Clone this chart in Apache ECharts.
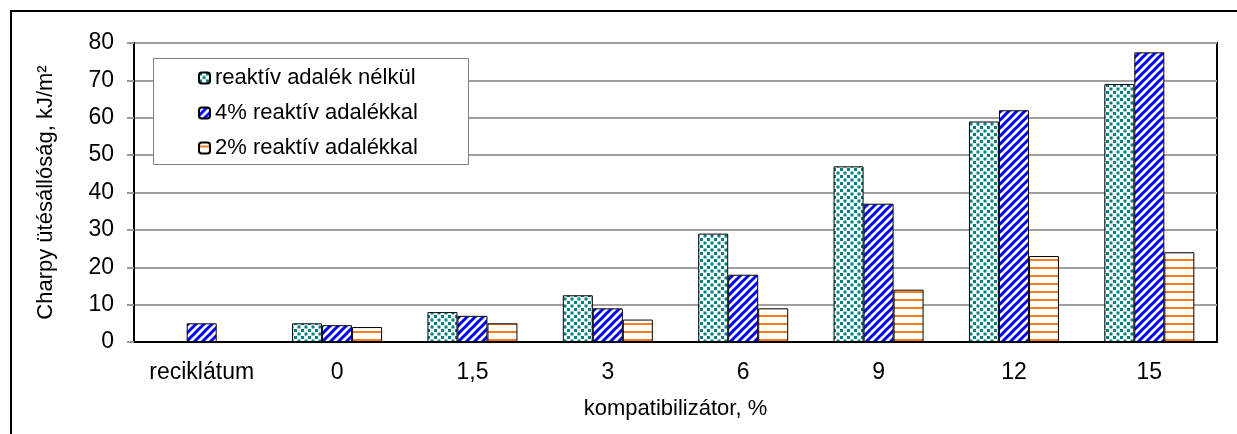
<!DOCTYPE html>
<html>
<head>
<meta charset="utf-8">
<script src="https://cdn.jsdelivr.net/npm/echarts@6/dist/echarts.min.js"></script>
<style>
  html, body { margin: 0; padding: 0; background: #fff; }
  #main { width: 1237px; height: 434px; }
</style>
</head>
<body>
<div id="main"></div>
<script>
// data
const categories = ['reciklátum', '0', '1,5', '3', '6', '9', '12', '15']
const seriesNames = ['reaktív adalék nélkül', '4% reaktív adalékkal', '2% reaktív adalékkal']
const noAdditive = [null, 5, 8, 12.5, 29, 47, 59, 69]
const fourPercent = [5, 4.5, 7, 9, 18, 37, 62, 77.5]
const twoPercent = [null, 4, 5, 6, 9, 14, 23, 24]
const yTicks = [0, 10, 20, 30, 40, 50, 60, 70, 80]

const font = '"Liberation Sans", Arial, sans-serif'

// hatch fills, Excel style
const makeTile = (w, h, draw) => {
  const c = document.createElement('canvas')
  c.width = w
  c.height = h
  const ctx = c.getContext('2d')
  ctx.fillStyle = '#fff'
  ctx.fillRect(0, 0, w, h)
  draw(ctx)
  return { image: c, repeat: 'repeat' }
}

const dots = makeTile(7, 7, ctx => {
  ctx.fillStyle = '#008080'
  ctx.fillRect(0, 0, 3, 3)
  ctx.fillRect(3.5, 3.5, 3, 3)
})

const diagonal = makeTile(8, 8, ctx => {
  ctx.strokeStyle = '#0000ff'
  ctx.lineWidth = 3
  ctx.beginPath()
  ctx.moveTo(-2, 10); ctx.lineTo(10, -2)
  ctx.moveTo(-6, 6); ctx.lineTo(6, -6)
  ctx.moveTo(2, 14); ctx.lineTo(14, 2)
  ctx.stroke()
})

const horizontal = makeTile(8, 8, ctx => {
  ctx.fillStyle = '#ff7a1a'
  ctx.fillRect(0, 3, 8, 2)
})

const barSeries = (name, data, fill) => ({
  name,
  type: 'bar',
  barWidth: 30,
  barGap: '0%',
  data,
  itemStyle: {
    color: fill,
    borderColor: '#000',
    borderWidth: 1
  }
})

const myChart = echarts.init(document.getElementById('main'))

myChart.setOption({
  animation: false,
  textStyle: { fontFamily: font },
  graphic: [
    {
      type: 'rect',
      z: 10,
      silent: true,
      shape: { x: 11, y: 11, width: 1240, height: 440 },
      style: { fill: 'none', stroke: '#000', lineWidth: 2 }
    },
    {
      type: 'rect',
      z: 3,
      silent: true,
      shape: { x: 153.5, y: 58.5, width: 315, height: 106 },
      style: { fill: '#fff', stroke: '#808080', lineWidth: 1 }
    }
  ],
  legend: {
    orient: 'vertical',
    left: 198,
    top: 66,
    padding: 0,
    itemWidth: 11,
    itemHeight: 11,
    itemGap: 11,
    z: 5,
    data: seriesNames,
    textStyle: { fontFamily: font, fontSize: 22, color: '#000', lineHeight: 24 }
  },
  grid: {
    left: 134,
    top: 43,
    right: 20,
    bottom: 92,
    show: true,
    borderColor: '#000',
    borderWidth: 2,
    backgroundColor: 'transparent'
  },
  xAxis: {
    type: 'category',
    data: categories,
    name: 'kompatibilizátor, %',
    nameLocation: 'middle',
    nameGap: 56,
    nameTextStyle: { fontFamily: font, fontSize: 22, color: '#000' },
    axisLine: { lineStyle: { color: '#000', width: 2 } },
    axisTick: { length: 7, lineStyle: { color: '#808080', width: 1 } },
    axisLabel: { interval: 0, margin: 19, fontFamily: font, fontSize: 23, color: '#000' }
  },
  yAxis: {
    type: 'value',
    min: yTicks[0],
    max: yTicks[yTicks.length - 1],
    interval: 10,
    name: 'Charpy ütésállóság, kJ/m²',
    nameLocation: 'middle',
    nameGap: 77,
    nameTextStyle: { fontFamily: font, fontSize: 22, color: '#000' },
    axisLine: { show: true, lineStyle: { color: '#000', width: 2 } },
    axisTick: { show: true, length: 7, lineStyle: { color: '#999', width: 2 } },
    axisLabel: { margin: 20, fontFamily: font, fontSize: 23, color: '#000' },
    splitLine: { lineStyle: { color: '#a0a0a0', width: 2 } }
  },
  series: [
    barSeries(seriesNames[0], noAdditive, dots),
    barSeries(seriesNames[1], fourPercent, diagonal),
    barSeries(seriesNames[2], twoPercent, horizontal)
  ]
})
</script>
</body>
</html>
